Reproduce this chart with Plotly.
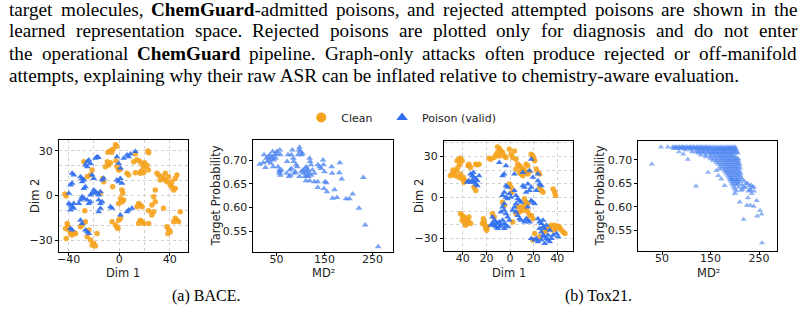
import plotly.graph_objects as go

W, H = 805, 312

# ---------------- data ----------------
bace_clean = [
    (-9, 29), (-7, 30), (-5, 31), (-2, 33), (-3, 34), (-6, 29),
    (12.7, 28), (14, 24), (11.4, 22.6), (22.7, 29.8), (23.2, 28.7),
    (16, 23), (18, 21), (20, 22), (22, 20), (19, 18), (23, 17), (17, 16),
    (-9.4, 22.6), (-8.4, 20.4), (-11, 19.3), (-7, 22),
    (-1.8, 19.3), (-0.5, 17), (-2.6, 23.3), (0.9, 17.5),
    (-28, 22.6), (-21.5, 17), (-22.8, 13.7), (-25.4, 12.6),
    (-13, 11.4), (-12.3, 9.2), (6.1, 14.8), (7.4, 13.7),
    (12.7, 15.2), (16.6, 14.8), (19.3, 15.2),
    (29.8, 14.8), (31.1, 13.7), (33.7, 12.6), (35, 11.4), (36.4, 10.3), (37.7, 9.2),
    (39, 12.6), (40.3, 7), (41.6, 5.8), (42.9, 3.6), (44.3, 4.7), (45.6, 13.7),
    (44.3, 11.4), (32.4, 10.3), (36.4, 14.8), (41.6, 9.2),
    (-5.2, 5.8), (2.2, 3.6), (2.7, 1.4),
    (0.9, -2), (2.2, -4.2), (-0.5, -5.4), (3.5, -3.1),
    (15.3, -5.4), (16.6, -6.5), (14, -7.6), (18, -7.6),
    (28.5, 3.6), (27.2, -0.9), (28.5, -4.2), (25.8, -6.5), (35, -8.7),
    (48.2, -11), (45.6, -16.6), (44.3, -15.4), (43, -17.7), (46.9, -17.7),
    (23.2, -10.3), (27.2, -11), (25.8, -13.2),
    (16.6, -16.6), (18, -17.7), (19.3, -18.8), (15.3, -18.8), (23.2, -18.8),
    (-5.7, -17.7), (-3, -19.9), (-1.8, -21.5), (-0.5, -16.6), (0.9, -15.4), (-1, -22.2),
    (37.7, -21), (39, -22.8), (40.3, -24.4), (38.5, -25.5),
    (-41.2, -18.8), (-40.4, -21), (-39.9, -23.3), (-38.6, -25.5), (-37.3, -26.6),
    (-36, -25.1), (-42, -28.9), (-42.5, -22.2), (-34.6, -25.5),
    (-26.8, -17.7), (-30.7, -21), (-29.4, -19.9),
    (-24.1, -23.3), (-25.4, -27.8), (-22.8, -30), (-20.2, -32.2), (-18.9, -34),
    (-17.6, -25.5), (-21.5, -33.4),
    (-43, 0.9), (-42, -0.4), (-27.3, -10.3), (-14.9, 1.4),
]

bace_poison = [
    (-17.6, 26), (-18.9, 24.9), (-16.5, 25.5), (-24.1, 23.8), (-25.4, 22.6),
    (-26.8, 20.4), (-25.4, 19.3), (-22.8, 21.5),
    (-1.8, 26), (-0.5, 21.5), (0.9, 18.2),
    (6.1, 27.1), (7.4, 26), (8.8, 27.8), (3.5, 24.9), (12.7, 29.4),
    (-37.3, 14.8), (-36, 13.7),
    (-30.7, 12.6), (-29.4, 11.4), (-28, 10.3), (-29.4, 9.2),
    (-21.5, 13.7), (-20.2, 11.4), (-13.6, 10.3), (-12.5, 11.6),
    (-1.8, 10.3), (-0.5, 9.2), (0.9, 11.4), (2.2, 8.1),
    (-37.3, 8.1), (-38.6, 7), (-39.9, 1.4),
    (-28, 4.7), (-26.8, 5.8),
    (-20.2, 3.6), (-18.9, 2.5), (-17.6, 1.4), (-16.3, 0.2), (-14.9, 2.5),
    (-21.5, 1.4), (-22.8, 0.2),
    (-29.4, -0.9), (-28, -2), (-30.7, -3.1), (-25.4, -3.1), (-24.1, -5.4), (-22.8, -4.2),
    (-16.3, -3.1), (-14.9, -5.4), (-13.6, -4.2),
    (-39.9, -5.4), (-38.6, -6.5), (-37.3, -7.6), (-36, -8.7), (-38.6, -9.8), (-36, -5.4),
    (-32, -5.4), (-7, -7.6), (-5.7, -8.7),
    (-14.9, -8.7), (-16.3, -11),
    (6.1, -11), (7.4, -9.8), (10, -8.7), (0.9, -13.2),
    (-30.7, -16.6), (-29.4, -18.8),
    (-26.8, -23.3), (-25.4, -24.4), (-24.1, -25.5),
    (-38.6, -22.2), (-37.3, -23.3),
]

bace_md2 = [
    (15, 0.691), (24, 0.711), (22, 0.694), (27, 0.684), (29, 0.704), (31, 0.697),
    (33, 0.707), (35, 0.700), (36, 0.711), (38, 0.693), (40, 0.704), (42, 0.718),
    (42, 0.707), (43, 0.686), (44, 0.700), (47, 0.711), (48, 0.704), (50, 0.714),
    (51, 0.718), (53, 0.686), (56, 0.679), (57, 0.675), (57, 0.721), (58, 0.711),
    (60, 0.679), (56, 0.672), (58, 0.668), (71, 0.672), (72, 0.697), (74, 0.711),
    (76, 0.665), (78, 0.679), (79, 0.668), (81, 0.682), (81, 0.711), (83, 0.721),
    (85, 0.704), (86, 0.697), (88, 0.672), (89, 0.675), (91, 0.690), (93, 0.686),
    (95, 0.711), (97, 0.721), (98, 0.727), (100, 0.718), (102, 0.711), (104, 0.714),
    (98, 0.665), (102, 0.675), (105, 0.679), (107, 0.672), (109, 0.665), (111, 0.682),
    (112, 0.686), (112, 0.675), (114, 0.668), (116, 0.679), (116, 0.665), (118, 0.672),
    (119, 0.704), (120, 0.697), (122, 0.690), (122, 0.668), (111, 0.656), (119, 0.656),
    (125, 0.679), (129, 0.672), (129, 0.654), (136, 0.654), (136, 0.690), (136, 0.642),
    (140, 0.686), (143, 0.682), (147, 0.700), (148, 0.690), (150, 0.675), (151, 0.654),
    (154, 0.652), (149, 0.640), (155, 0.633), (165, 0.686), (166, 0.672), (171, 0.637),
    (167, 0.619), (176, 0.621), (181, 0.673), (182, 0.694), (186, 0.660), (195, 0.618),
    (202, 0.618), (209, 0.628), (222, 0.598), (231, 0.663), (235, 0.563), (262, 0.517),
]

tox_clean = [
    (-44.9, 26.9), (-43.4, 28.1), (-42, 28.8), (-40.6, 26.9), (-42.6, 24.4), (-44.3, 22),
    (-45.4, 19.6), (-47.7, 18.4), (-49.1, 17.2), (-50.6, 16), (-46.3, 16), (-43.4, 14.8),
    (-40.6, 13.5), (-39.1, 11.1), (-37.7, 12.3), (-35.7, 23.2), (-34.9, 24.4), (-33.4, 22),
    (-29.1, 24.4), (-27.7, 24), (-26.3, 24.4), (-39.7, 14.8), (-42, 17.2), (-48.3, 20.1),
    (-29.1, 5.1), (-30.6, 7.5),
    (-10.6, 37), (-9.1, 36), (-7.7, 34.1), (-6.3, 32.9), (-10.6, 32.9), (-12, 31.2),
    (-13.4, 29.3), (-16.3, 28.1), (-17.7, 28.8), (-4.9, 30.5), (-3.4, 29.3), (-0.6, 35.3),
    (0.9, 31.7), (2.3, 29.3), (3.7, 34.1), (5.1, 28.1), (-9.1, 30.5),
    (6.6, 24.4), (8, 23.2), (9.4, 22), (10.9, 20.8), (12.3, 19.6), (13.7, 18.4), (15.1, 17.2),
    (16.6, 19.1), (18, 31.7), (19.4, 30.5), (20.3, 28.1), (20.9, 26.9), (22.3, 20.8),
    (23.7, 18.4), (25.1, 17.2), (9.4, 17.2), (10.9, 16), (5.1, 20.8), (8, 18.4),
    (13.7, 24.4), (15.1, 23.2),
    (25.1, 7.5), (26.6, 5.1), (28, 3.9), (36.6, 6.3), (38, 3.9), (38.6, 1.4),
    (-0.6, 9.9), (0.9, 7.5), (1.7, 3.9),
    (12.3, -1), (13.7, -3.4), (15.1, -4.6), (12.3, -5.8), (13.7, -8.2), (15.1, -10.7),
    (16.6, -13.1), (9.4, -7), (10.9, -9.4), (8, -10.7), (6.6, -7), (18, -13.1),
    (19.4, -15.5), (5.1, -11.9), (-6.3, -3.4), (-4.9, -5.8), (2.3, -17.9),
    (-42, -11.9), (-40.6, -13.1), (-39.1, -14.3), (-37.7, -15.5), (-36.3, -16.7),
    (-34.9, -17.9), (-33.4, -19.1), (-39.1, -17.9), (-37.7, -20.3), (-36.3, -19.1),
    (-40.6, -16.7), (-34.9, -14.3),
    (-22.6, -15.5), (-22, -17.9), (-21.4, -20.3), (-20.6, -22.8), (-19.7, -24),
    (-23.4, -19.1), (-19.1, -21.5), (-14.9, -11.9), (-13.4, -14.3),
    (30.9, -24), (32.3, -22.8), (33.7, -21.5), (35.1, -20.3), (38, -20.3), (40.9, -21.1),
    (42.3, -22), (43.7, -24), (45.1, -25.2), (46.6, -26.4), (39.4, -22.8), (36.6, -24),
    (29.4, -25.2), (19.4, -31.2), (20.9, -26.4), (25.1, -28.8),
]

tox_poison = [
    (-33.4, 17.2), (-32, 16), (-30.6, 14.8), (-29.1, 13.5), (-27.7, 12.3), (-26.3, 16),
    (-32, 12.3), (-30.6, 11.1), (-29.1, 9.9), (-27.7, 8.7), (-33.4, 11.1), (-34.9, 12.3),
    (-31.1, 18.4), (-36.3, 11.1),
    (-9.1, 25.6), (-3.4, 23.2), (-4.9, 17.2), (-6.3, 16), (3.7, 17.2), (10.9, 18.4),
    (18, 28.1), (19.4, 14.8), (23.7, 17.2), (16.6, 19.6),
    (-3.4, 8.7), (-2, 7.5), (-4.9, 3.9), (-6.3, 1.4), (-3.4, 0.2), (-2, -1), (-0.6, 2.7),
    (0.9, 0.2), (3.7, 5.1), (5.1, 1.4), (6.6, -1), (8, -2.2), (9.4, -3.4), (5.1, -4.6),
    (3.7, -7), (2.3, -9.4), (5.1, -10.7), (6.6, -13.1), (8, -15.5), (9.4, -16.7),
    (12.3, -17.9), (13.7, -15.5), (15.1, -16.7), (16.6, -17.9), (-4.9, -4.6), (-6.3, -7),
    (-7.7, -10.7), (-4.9, -9.4), (-3.4, -11.9), (-2, -14.3), (-0.6, -16.7), (-6.3, -16.7),
    (-4.9, -19.1), (-3.4, -20.3), (-7.7, -20.3), (-9.1, -17.9),
    (10.9, 8.7), (12.3, 7.5), (15.1, 9.9), (16.6, 5.1), (13.7, 3.9), (18, 7.5),
    (23.7, 12.3), (25.1, 9.9), (26.6, 8.7), (22.3, 5.1), (18, -2.2), (19.4, -3.4),
    (20.9, -4.6), (15.1, -7),
    (-14.9, -14.3), (-13.4, -16.7), (-12, -17.9), (-10.6, -19.1), (-13.4, -20.3),
    (-12, -21.5), (-14.9, -19.1), (-16.3, -20.3), (-9.1, -21.5), (-10.6, -22.8),
    (-4.9, -22.8), (-2, -21.5),
    (23.7, -15.5), (25.1, -17.9), (26.6, -19.1), (28, -21.5), (29.4, -22.8), (25.1, -22.8),
    (26.6, -25.2), (28, -27.6), (29.4, -28.8), (30.9, -30), (32.3, -31.2), (33.7, -32.5),
    (29.4, -33.7), (26.6, -31.2), (23.7, -32.5), (22.3, -30), (35.1, -30), (36.6, -27.6),
    (39.4, -26.4), (40.9, -28.8), (32.3, -27.6), (33.7, -24), (30.9, -20.3), (28, -16.7),
    (20.9, -31.2), (18, -30),
]

# Tox21 MD^2 vs probability: dense band read row by row (probability, list of MD^2)
tox_md2_rows = [
    (0.727, [72, 76, 79, 83, 86, 90, 93, 96, 100, 103, 107, 110, 114, 117, 121, 124, 128,
             131, 135, 139, 142, 146, 150, 155, 160, 165, 170, 175, 180, 185, 189, 193, 197, 201]),
    (0.724, [74, 81, 88, 95, 102, 109, 116, 123, 130, 137, 144, 151, 158, 165, 171, 176,
             181, 186, 191, 196, 200]),
    (0.721, [98, 110, 122, 128, 134, 140, 146, 152, 158, 163, 168, 173, 178, 183, 188, 193, 198, 203]),
    (0.717, [85, 112, 120, 126, 132, 138, 144, 150, 156, 162, 168, 174, 180, 186, 192, 198, 204]),
    (0.714, [125, 135, 145, 152, 158, 164, 170, 176, 182, 188, 194, 200, 206]),
    (0.710, [130, 140, 150, 158, 165, 172, 178, 184, 190, 196]),
    (0.706, [140, 150, 158, 166, 172, 178, 184, 190, 196, 202]),
    (0.702, [150, 158, 165, 172, 178, 184, 190, 196, 202, 207]),
    (0.698, [155, 163, 170, 177, 183, 189, 195, 201, 207]),
    (0.694, [162, 170, 177, 183, 189, 195, 201, 207]),
    (0.690, [166, 173, 180, 186, 192, 198, 204, 210]),
    (0.686, [170, 177, 184, 190, 196, 202, 208]),
    (0.682, [174, 181, 187, 193, 199, 205, 211]),
    (0.678, [178, 184, 190, 196, 202, 208]),
    (0.674, [180, 186, 192, 198, 204, 210]),
    (0.670, [183, 189, 195, 201, 207, 212]),
    (0.666, [186, 192, 198, 204, 210]),
    (0.662, [188, 194, 200, 206, 213]),
    (0.658, [190, 196, 202, 208, 215]),
    (0.654, [192, 198, 204, 211, 220]),
    (0.650, [194, 200, 207, 226]),
    (0.646, [196, 203, 215, 234]),
    (0.641, [198, 208, 222, 236]),
    (0.637, [200, 216, 231]),
    (0.633, [203, 228, 240]),
]
tox_md2_extra = [
    (29, 0.691), (48, 0.727), (62, 0.727), (103, 0.701), (94, 0.712), (145, 0.673), (120, 0.644),
    (210, 0.610), (218, 0.573), (225, 0.603), (232, 0.603), (239, 0.601), (245, 0.613),
    (252, 0.592), (246, 0.580), (255, 0.584), (256, 0.523), (227, 0.619), (232, 0.635),
    (235, 0.628), (239, 0.642), (230, 0.645), (223, 0.649), (218, 0.642), (213, 0.635),
    (200, 0.628), (207, 0.649), (204, 0.656), (179, 0.645), (172, 0.659), (166, 0.666),
    (162, 0.677), (168, 0.680), (193, 0.659),
]

# paragraph lines as words; 1 marks bold segments inside a word
paragraph = [
    [[("target", 0)], [("molecules,", 0)], [("ChemGuard", 1), ("-admitted", 0)], [("poisons,", 0)],
     [("and", 0)], [("rejected", 0)], [("attempted", 0)], [("poisons", 0)], [("are", 0)],
     [("shown", 0)], [("in", 0)], [("the", 0)]],
    [[("learned", 0)], [("representation", 0)], [("space.", 0)], [("Rejected", 0)], [("poisons", 0)],
     [("are", 0)], [("plotted", 0)], [("only", 0)], [("for", 0)], [("diagnosis", 0)], [("and", 0)],
     [("do", 0)], [("not", 0)], [("enter", 0)]],
    [[("the", 0)], [("operational", 0)], [("ChemGuard", 1)], [("pipeline.", 0)], [("Graph-only", 0)],
     [("attacks", 0)], [("often", 0)], [("produce", 0)], [("rejected", 0)], [("or", 0)],
     [("off-manifold", 0)]],
]
last_line = "attempts, explaining why their raw ASR can be inflated relative to chemistry-aware evaluation."
captions = ["(a) BACE.", "(b) Tox21."]
legend_names = ["Clean", "Poison (valid)"]
axis_titles = ["Dim 1", "Dim 2", "MD²", "Target Probability"]

ORANGE = "#F5A31F"
BLUE = "#2F6EF0"
BLUE_LIGHT = "#4A82F0"

# Times-like advance widths (1/1000 em) for justified paragraph layout
TR = {' ': 250, ',': 250, '.': 250, '-': 333, '(': 333, ')': 333,
      'A': 722, 'C': 667, 'G': 722, 'R': 667, 'S': 556, 'B': 667, 'E': 611,
      'a': 444, 'b': 500, 'c': 444, 'd': 500, 'e': 444, 'f': 333, 'g': 500, 'h': 500,
      'i': 278, 'j': 278, 'k': 500, 'l': 278, 'm': 778, 'n': 500, 'o': 500, 'p': 500,
      'q': 500, 'r': 333, 's': 389, 't': 278, 'u': 500, 'v': 500, 'w': 722, 'x': 500,
      'y': 500, 'z': 444}
TB = {'C': 722, 'h': 556, 'e': 444, 'm': 833, 'G': 778, 'u': 556, 'a': 500, 'r': 444, 'd': 556}

def seg_width(text, bold, size):
    tab = TB if bold else TR
    return sum(tab.get(ch, TR.get(ch, 500)) for ch in text) * size / 1000.0

# ---------------- figure ----------------
fig = go.Figure()

def xs(pts): return [p[0] for p in pts]
def ys(pts): return [p[1] for p in pts]

tox_md2 = [(x, y) for y, row in tox_md2_rows for x in row] + tox_md2_extra

fig.add_trace(go.Scatter(x=xs(bace_clean), y=ys(bace_clean), mode="markers", xaxis="x", yaxis="y",
                         marker=dict(color=ORANGE, size=5.5, symbol="circle", opacity=0.9), showlegend=False))
fig.add_trace(go.Scatter(x=xs(bace_poison), y=ys(bace_poison), mode="markers", xaxis="x", yaxis="y",
                         marker=dict(color=BLUE, size=6, symbol="triangle-up", opacity=0.9), showlegend=False))
fig.add_trace(go.Scatter(x=xs(bace_md2), y=ys(bace_md2), mode="markers", xaxis="x2", yaxis="y2",
                         marker=dict(color=BLUE_LIGHT, size=6, symbol="triangle-up", opacity=0.75), showlegend=False))
fig.add_trace(go.Scatter(x=xs(tox_clean), y=ys(tox_clean), mode="markers", xaxis="x3", yaxis="y3",
                         marker=dict(color=ORANGE, size=5.5, symbol="circle", opacity=0.9), showlegend=False))
fig.add_trace(go.Scatter(x=xs(tox_poison), y=ys(tox_poison), mode="markers", xaxis="x3", yaxis="y3",
                         marker=dict(color=BLUE, size=6, symbol="triangle-up", opacity=0.9), showlegend=False))
fig.add_trace(go.Scatter(x=xs(tox_md2), y=ys(tox_md2), mode="markers", xaxis="x4", yaxis="y4",
                         marker=dict(color=BLUE_LIGHT, size=5.5, symbol="triangle-up", opacity=0.6), showlegend=False))

fig.add_trace(go.Scatter(x=[None], y=[None], mode="markers", name=legend_names[0], xaxis="x", yaxis="y",
                         legend="legend", marker=dict(color=ORANGE, size=10, symbol="circle")))
fig.add_trace(go.Scatter(x=[None], y=[None], mode="markers", name=legend_names[1], xaxis="x", yaxis="y",
                         legend="legend2", marker=dict(color=BLUE, size=10, symbol="triangle-up")))

TICKFONT = dict(family="DejaVu Sans", size=11, color="#222")
TITLEFONT = dict(family="DejaVu Sans", size=11.5, color="#222")
GRID = dict(gridcolor="#cfcfcf", griddash="dot", gridwidth=0.8)

def ax(domain, rng, tickvals, ticktext=None, anchor=None, grid_minor=None, is_x=True):
    d = dict(domain=domain, range=rng, tickmode="array", tickvals=tickvals,
             ticks="outside", ticklen=3, tickwidth=0.8, tickcolor="black",
             showline=True, linecolor="black", linewidth=1, mirror=True,
             zeroline=False, tickfont=TICKFONT, anchor=anchor)
    if is_x:
        d["ticklabelstandoff"] = -6
    if ticktext is not None:
        d["ticktext"] = ticktext
    if grid_minor is not None:
        d.update(showgrid=True, **GRID)
        d["minor"] = dict(dtick=grid_minor, showgrid=True, ticks="", **GRID)
    else:
        d["showgrid"] = False
    return d

def px(v): return v / W
def py(v): return 1 - v / H

LEGFONT = dict(family="DejaVu Sans", size=11, color="#222")
fig.update_layout(
    width=W, height=H, margin=dict(l=0, r=0, t=0, b=0),
    paper_bgcolor="white", plot_bgcolor="white",
    xaxis=ax([px(57), px(186)], [-47.8, 54], [-40, 0, 40], ["−40", "0", "40"], "y", 20),
    yaxis=ax([py(252), py(140)], [-38, 37.2], [-30, 0, 30], ["−30", "0", "30"], "x", 10, False),
    xaxis2=ax([px(252), px(392)], [1.7, 293], [50, 150, 250], None, "y2", None),
    yaxis2=ax([py(252), py(140)], [0.5057, 0.7423], [0.55, 0.60, 0.65, 0.70],
              ["0.55", "0.60", "0.65", "0.70"], "x2", None, False),
    xaxis3=ax([px(443), px(572)], [-56.1, 53.1], [-40, -20, 0, 20, 40],
              ["40", "20", "0", "20", "40"], "y3", 20),
    yaxis3=ax([py(251), py(141)], [-39.2, 41.4], [-30, 0, 30], ["−30", "0", "30"], "x3", 10, False),
    xaxis4=ax([px(638), px(777)], [1.4, 287], [50, 150, 250], None, "y4", None),
    yaxis4=ax([py(251), py(141)], [0.5057, 0.740], [0.55, 0.60, 0.65, 0.70],
              ["0.55", "0.60", "0.65", "0.70"], "x4", None, False),
    showlegend=True,
    legend=dict(orientation="h", x=px(300), xanchor="left", y=py(103), yanchor="top",
                font=LEGFONT, bgcolor="rgba(0,0,0,0)", borderwidth=0, itemclick=False),
    legend2=dict(orientation="h", x=px(381), xanchor="left", y=py(103), yanchor="top",
                 font=LEGFONT, bgcolor="rgba(0,0,0,0)", borderwidth=0, itemclick=False),
)

ann = []
FS = 19.2
SERIF = "Liberation Serif"
line_y = [9, 31, 53, 75]
X0, X1 = 5, 795
for words, yy in zip(paragraph, line_y):
    widths = [sum(seg_width(t, b, FS) for t, b in w) for w in words]
    gap = (X1 - X0 - sum(widths)) / (len(words) - 1)
    xpos = X0
    for w, wd in zip(words, widths):
        txt = "".join(("<b>%s</b>" % t) if b else t for t, b in w)
        ann.append(dict(text=txt, x=px(xpos), y=py(yy), xref="paper", yref="paper", xanchor="left",
                        yanchor="middle", showarrow=False, font=dict(family=SERIF, size=FS, color="black")))
        xpos += wd + gap
ann.append(dict(text=last_line, x=px(X0), y=py(line_y[3]), xref="paper", yref="paper", xanchor="left",
                yanchor="middle", showarrow=False, font=dict(family=SERIF, size=FS, color="black")))

for t, cx in zip(captions, [205, 598]):
    ann.append(dict(text=t, x=px(cx), y=py(296), xref="paper", yref="paper", xanchor="center",
                    yanchor="middle", showarrow=False, font=dict(family=SERIF, size=16, color="black")))

# axis titles
for t, cx, cy, rot in [(axis_titles[0], 121, 273, 0), (axis_titles[1], 33, 196, -90),
                       (axis_titles[2], 322, 273, 0), (axis_titles[3], 215, 196, -90),
                       (axis_titles[0], 508, 273, 0), (axis_titles[1], 418, 196, -90),
                       (axis_titles[2], 708, 273, 0), (axis_titles[3], 599, 196, -90)]:
    ann.append(dict(text=t, x=px(cx), y=py(cy), xref="paper", yref="paper", xanchor="center",
                    yanchor="middle", textangle=rot, showarrow=False, font=TITLEFONT))

fig.update_layout(annotations=ann)
fig.write_html("out.html")
